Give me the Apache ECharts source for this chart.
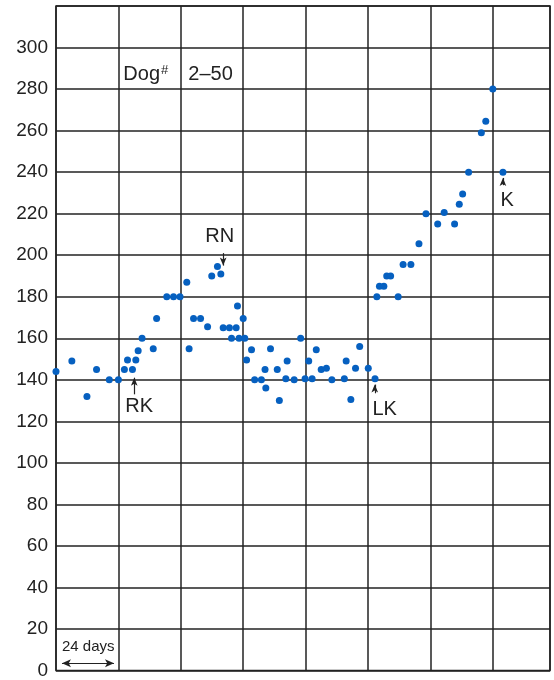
<!DOCTYPE html>
<html>
<head>
<meta charset="utf-8">
<script src="https://cdn.jsdelivr.net/npm/echarts@6/dist/echarts.min.js"></script>
<style>
  html, body { margin: 0; padding: 0; background: #fff; }
  #chart { width: 554px; height: 680px; }
</style>
</head>
<body>
<div id="chart"></div>
<script>
// Time in days (one grid column = 24 days) and measured value for each reading
const days = [
  0, 6.1, 11.9, 15.6, 20.5, 24, 26.3, 27.5, 29.4, 30.7,
  31.6, 33.1, 37.4, 38.7, 42.6, 45.2, 47.7, 50.3, 51.2, 52.9,
  55.6, 58.3, 59.9, 62.1, 63.4, 64.3, 66.7, 69.3, 67.5, 69.8,
  72, 70.4, 72.6, 73.3, 75.2, 76.4, 79.0, 80.4, 80.7, 82.5,
  85.1, 85.9, 88.4, 88.9, 91.6, 94.1, 95.8, 97.2, 98.5, 100.1,
  102, 104, 106.1, 110.9, 111.6, 113.4, 115.2, 116.8, 120.1, 122.7,
  123.4, 124.4, 126.1, 127.2, 128.7, 131.6, 133.5, 136.5, 139.6, 142.3,
  146.8, 149.3, 153.3, 155.1, 156.4, 158.7, 163.6, 165.3, 168, 171.9
];
const values = [
  144, 149, 132, 145, 140, 140, 145, 149.5, 145, 149.5,
  154, 160, 155, 169.5, 180, 180, 180, 187, 155, 169.5,
  169.5, 165.5, 190, 194.5, 191, 165, 165, 165, 160, 175.5,
  169.5, 160, 160, 149.5, 154.5, 140, 140, 145, 136, 155,
  145, 130, 140.5, 149, 140, 160, 140.5, 149, 140.5, 154.5,
  145, 145.5, 140, 140.5, 149, 130.5, 145.5, 156, 145.5, 140.5,
  180, 185, 185, 190, 190, 180, 195.5, 195.5, 205.5, 220,
  215, 220.5, 215, 224.5, 229.5, 240, 259, 264.5, 280, 240
];

// Axis setup
const dayMax = 190;
const dayStep = 24;
const yMax = 320;
const yStep = 20;
const yTickLabels = [0, 20, 40, 60, 80, 100, 120, 140, 160, 180, 200, 220, 240, 260, 280, 300];

// Event annotations: arrow from (x, from) to (x, to), text centred at (tx, ty)
const eventNames = ['RK', 'RN', 'LK', 'K'];
const eventArrowX = [30.1, 64.3, 122.6, 171.9];
const eventArrowFrom = [133, 201, 133.5, 233.7];
const eventArrowTo = [141, 195, 137.7, 237.2];
const eventTextX = [32, 63, 126.4, 173.5];
const eventTextY = [127.2, 209.2, 125.7, 226.4];

const ink = '#222';
const dotColor = '#0660c0';
const font = '"Liberation Sans", Arial, Helvetica, sans-serif';

const points = days.map((d, i) => [d, values[i]]);

const arrowLines = eventNames.map((n, i) => [
  { coord: [eventArrowX[i], eventArrowFrom[i]], symbol: 'none' },
  { coord: [eventArrowX[i], eventArrowTo[i]], symbol: 'arrow', symbolSize: [5, 8] }
]);
// scale bar showing the width of one column
arrowLines.push([
  { coord: [2.3, 3.5], symbol: 'arrow', symbolSize: [6, 9] },
  { coord: [22.3, 3.5], symbol: 'arrow', symbolSize: [6, 9] }
]);

const textPoints = eventNames.map((n, i) => ({
  coord: [eventTextX[i], eventTextY[i]],
  label: { formatter: n }
}));
textPoints.push({
  coord: [25.9, 287.1],
  label: { formatter: '{a|Dog}{s|#}', align: 'left' }
});
textPoints.push({
  coord: [50.9, 287.1],
  label: { formatter: '2–50', align: 'left' }
});
textPoints.push({
  coord: [2.3, 11.2],
  label: { formatter: '24 days', align: 'left', fontSize: 15 }
});

const chart = echarts.init(document.getElementById('chart'), null, { renderer: 'canvas' });
chart.setOption({
  animation: false,
  backgroundColor: '#fff',
  grid: {
    left: 56, right: 4, top: 6, bottom: 7,
    show: true, borderColor: ink, borderWidth: 1.5,
    backgroundColor: 'transparent'
  },
  xAxis: {
    type: 'value', min: 0, max: dayMax, interval: dayStep,
    axisLine: { show: false }, axisTick: { show: false }, axisLabel: { show: false },
    splitLine: { show: true, lineStyle: { color: ink, width: 1.5 } }
  },
  yAxis: {
    type: 'value', min: 0, max: yMax, interval: yStep,
    axisLine: { show: false }, axisTick: { show: false },
    axisLabel: {
      fontSize: 19, color: ink, fontFamily: font, margin: 8,
      formatter: v => (yTickLabels.indexOf(v) >= 0 ? String(v) : '')
    },
    splitLine: { show: true, lineStyle: { color: ink, width: 1.5 } }
  },
  series: [{
    type: 'scatter',
    data: points,
    symbolSize: 7,
    itemStyle: { color: dotColor, opacity: 1 },
    z: 5,
    markLine: {
      silent: true,
      animation: false,
      label: { show: false },
      lineStyle: { color: ink, width: 1.2, type: 'solid' },
      data: arrowLines
    },
    markPoint: {
      silent: true,
      animation: false,
      symbol: 'circle',
      symbolSize: 0,
      label: {
        show: true, position: 'inside', color: ink, fontSize: 20, fontFamily: font,
        verticalAlign: 'middle',
        rich: {
          a: { fontSize: 20, color: ink, fontFamily: font },
          s: { fontSize: 13, color: ink, fontFamily: font, verticalAlign: 'top', padding: [0, 0, 8, 1] }
        }
      },
      data: textPoints
    }
  }]
});
</script>
</body>
</html>
